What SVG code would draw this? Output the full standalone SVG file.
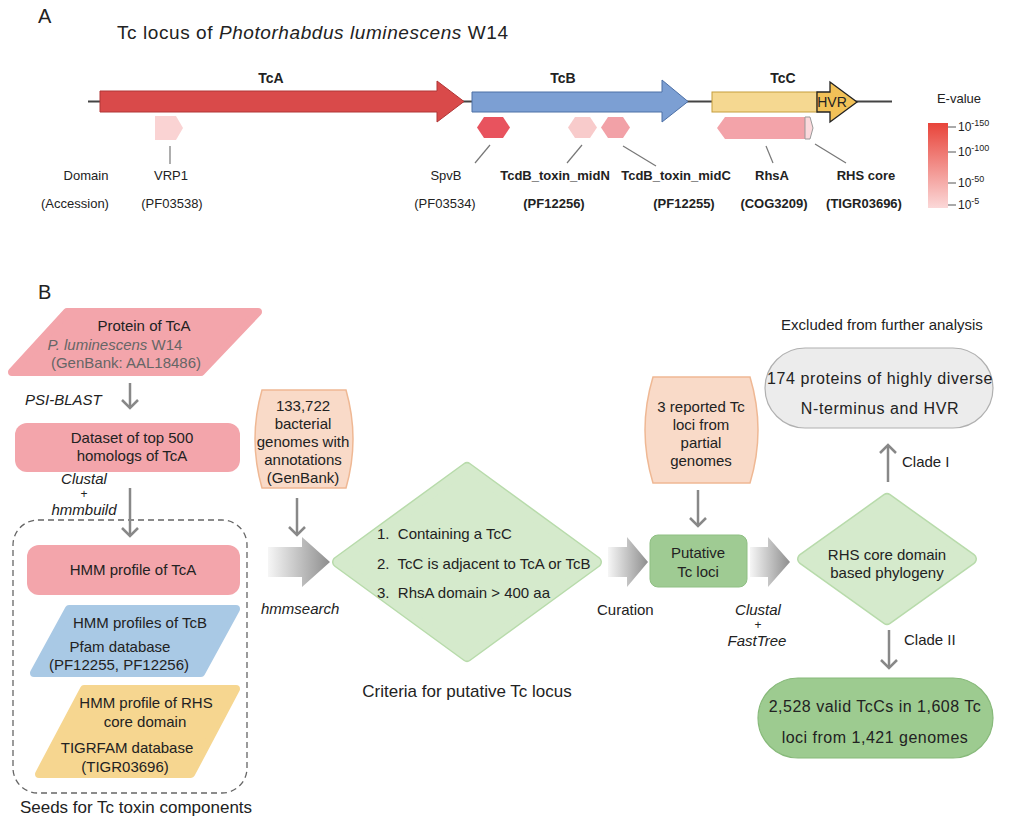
<svg xmlns="http://www.w3.org/2000/svg" width="1011" height="826" viewBox="0 0 1011 826">
<defs>
<style>
text{font-family:"Liberation Sans",Arial,sans-serif;fill:#222}
.f13{font-size:13px}.f14{font-size:14px}.f15{font-size:15px}.f17{font-size:17px}.f20{font-size:20px}
.b{font-weight:bold}.i{font-style:italic}.c{text-anchor:middle}.g{fill:#666}
.dl{stroke:#777;stroke-width:1.2;fill:none}
.ar{stroke:#888;stroke-width:2.5;fill:none;marker-end:url(#ah)}
.pink{fill:#f3a5ab;stroke:#f3a5ab;stroke-width:8;stroke-linejoin:round}
.blue{fill:#a9c9e5;stroke:#a9c9e5;stroke-width:8;stroke-linejoin:round}
.gold{fill:#f6d690;stroke:#f6d690;stroke-width:8;stroke-linejoin:round}
.peach{fill:#f9dac8;stroke:#efb894;stroke-width:1.5}
.dmo{fill:#b8dbab;stroke:#b8dbab;stroke-width:12;stroke-linejoin:round}
.dmi{fill:#d5eacc;stroke:#d5eacc;stroke-width:9;stroke-linejoin:round}
.blk{fill:url(#gg)}
</style>
<marker id="ah" viewBox="-10 -10 20 20" refX="0" refY="0" markerWidth="20" markerHeight="20" markerUnits="userSpaceOnUse" orient="auto">
<path d="M-8,-8 L0,0 L-8,8" stroke="#888" stroke-width="2.5" fill="none"/>
</marker>
<linearGradient id="gg" x1="0" y1="0" x2="1" y2="0">
<stop offset="0" stop-color="#f6f6f6"/><stop offset="1" stop-color="#8e8e8e"/>
</linearGradient>
<linearGradient id="ev" x1="0" y1="0" x2="0" y2="1">
<stop offset="0" stop-color="#e8443a"/><stop offset="1" stop-color="#fbd8d8"/>
</linearGradient>
</defs>
<rect width="1011" height="826" fill="#fff"/>

<!-- Panel A -->
<text class="f20" x="38" y="23">A</text>
<text x="117" y="39" font-size="19" textLength="391" lengthAdjust="spacing">Tc locus of <tspan font-style="italic">Photorhabdus luminescens</tspan> W14</text>

<g id="locus">
<line x1="88" y1="101.5" x2="892" y2="101.5" stroke="#444" stroke-width="2.2"/>
<g id="TcA"><path d="M100,91 H437 V81 L464,101.5 L437,122 V112 H100 Z" fill="#d94a4a" stroke="#b03636" stroke-width="1"/>
<text class="f14 b c" x="271" y="83">TcA</text></g>
<g id="TcB"><path d="M472,92 H662 V80 L688,101.5 L662,122 V112 H472 Z" fill="#7c9fd3" stroke="#4d70a6" stroke-width="1"/>
<text class="f14 b c" x="563" y="83">TcB</text></g>
<g id="TcC"><rect x="712" y="92" width="105" height="20" fill="#f5d891" stroke="#c59e3c" stroke-width="1"/>
<path d="M817,92 H830 V82 L857,102 L830,122 V112 H817 Z" fill="#f2c158" stroke="#222" stroke-width="1.3"/>
<text class="f14 c" x="832" y="107">HVR</text>
<text class="f14 b c" x="783" y="83">TcC</text></g>
</g>

<g id="domains">
<polygon points="155,116 176,116 183,128 176,140 155,140" fill="#fad3d3"/>
<polygon points="477,127.5 484,117 503,117 510,127.5 503,138 484,138" fill="#e8535e"/>
<polygon points="568,127.5 575,117 590,117 597,127.5 590,138 575,138" fill="#f8cbcb"/>
<polygon points="601,127.5 608,117 623,117 630,127.5 623,138 608,138" fill="#f2a1a7"/>
<polygon points="717,128 725,117 805,117 805,139 725,139" fill="#f3a3a9"/>
<polygon points="805,117 810,117 813,128 810,139 805,139" fill="#fbd9dc" stroke="#999" stroke-width="1"/>
</g>

<g id="domain-lines">
<line class="dl" x1="170" y1="146" x2="170" y2="164"/>
<line class="dl" x1="490" y1="145" x2="475" y2="163"/>
<line class="dl" x1="582" y1="145" x2="567" y2="163"/>
<line class="dl" x1="623" y1="146" x2="656" y2="166"/>
<line class="dl" x1="766" y1="146" x2="773" y2="163"/>
<line class="dl" x1="815" y1="144" x2="846" y2="163"/>
</g>

<g id="domain-labels">
<text class="f13 c" x="86" y="180">Domain</text>
<text class="f13 c" x="75" y="208">(Accession)</text>
<text class="f13 c" x="171" y="180">VRP1</text>
<text class="f13 c" x="172" y="208">(PF03538)</text>
<text class="f13 c" x="446" y="180">SpvB</text>
<text class="f13 c" x="445" y="208">(PF03534)</text>
<text class="f13 b c" x="555" y="180">TcdB_toxin_midN</text>
<text class="f13 b c" x="554" y="208">(PF12256)</text>
<text class="f13 b c" x="676" y="180">TcdB_toxin_midC</text>
<text class="f13 b c" x="684" y="208">(PF12255)</text>
<text class="f13 b c" x="772" y="180">RhsA</text>
<text class="f13 b c" x="774" y="208">(COG3209)</text>
<text class="f13 b c" x="866" y="180">RHS core</text>
<text class="f13 b c" x="864" y="208">(TIGR03696)</text>
</g>

<g id="legend">
<text class="f13 c" x="959" y="103">E-value</text>
<rect x="928" y="123" width="20" height="85" fill="url(#ev)"/>
<g stroke="#555" stroke-width="1">
<line x1="948" y1="127" x2="956" y2="127"/><line x1="948" y1="152" x2="956" y2="152"/>
<line x1="948" y1="183" x2="956" y2="183"/><line x1="948" y1="205" x2="956" y2="205"/>
</g>
<text font-size="12" x="958" y="131" fill="#444">10<tspan font-size="9" dy="-5">-150</tspan></text>
<text font-size="12" x="958" y="156" fill="#444">10<tspan font-size="9" dy="-5">-100</tspan></text>
<text font-size="12" x="958" y="187" fill="#444">10<tspan font-size="9" dy="-5">-50</tspan></text>
<text font-size="12" x="958" y="209" fill="#444">10<tspan font-size="9" dy="-5">-5</tspan></text>
</g>

<!-- Panel B -->
<text class="f20" x="38" y="299">B</text>

<g id="protein-tca">
<polygon class="pink" points="67,312 258,312 201,372 12,372"/>
<text class="f15 c" x="144" y="331">Protein of TcA</text>
<text class="f15 c g" x="115" y="350"><tspan class="i">P. luminescens</tspan> W14</text>
<text class="f15 c g" x="126" y="368">(GenBank: AAL18486)</text>
</g>

<g id="dataset">
<rect x="15" y="423" width="225" height="49" rx="12" fill="#f3a5ab"/>
<text class="f15 c" x="132" y="443">Dataset of top 500</text>
<text class="f15 c" x="132" y="461">homologs of TcA</text>
</g>

<g id="seeds">
<rect x="13" y="520" width="234" height="273" rx="25" fill="none" stroke="#666" stroke-width="1.3" stroke-dasharray="6,4"/>
<text class="f17 c" x="136" y="813">Seeds for Tc toxin components</text>
</g>

<g id="hmm-tca">
<rect x="27" y="545" width="213" height="50" rx="12" fill="#f3a5ab"/>
<text class="f15 c" x="133" y="575">HMM profile of TcA</text>
</g>

<g id="hmm-tcb">
<polygon class="blue" points="69,609 236,609 201,673 34,673"/>
<text class="f15 c" x="140" y="628">HMM profiles of TcB</text>
<text class="f15 c" x="120" y="652" fill="#555">Pfam database</text>
<text class="f15 c" x="119" y="670" fill="#555">(PF12255, PF12256)</text>
</g>

<g id="hmm-rhs">
<polygon class="gold" points="84,689 236,689 191,774 39,774"/>
<text class="f15 c" x="146" y="708">HMM profile of RHS</text>
<text class="f15 c" x="145" y="727">core domain</text>
<text class="f15 c" x="127" y="753" fill="#555">TIGRFAM database</text>
<text class="f15 c" x="125" y="772" fill="#555">(TIGR03696)</text>
</g>

<g id="genomes">
<path class="peach" d="M262,390 H346 Q360,439 346,488 H262 Q248,439 262,390 Z"/>
<text class="f15 c" x="303" y="411">133,722</text>
<text class="f15 c" x="303" y="429">bacterial</text>
<text class="f15 c" x="303" y="447">genomes with</text>
<text class="f15 c" x="303" y="465">annotations</text>
<text class="f15 c" x="303" y="483">(GenBank)</text>
</g>

<g id="criteria">
<polygon class="dmo" points="467,468 596,562 467,656 338,562"/>
<polygon class="dmi" points="467,468 596,562 467,656 338,562"/>
<text class="f15" x="377" y="539" xml:space="preserve">1.  Containing a TcC</text>
<text class="f15" x="377" y="569" xml:space="preserve">2.  TcC is adjacent to TcA or TcB</text>
<text class="f15" x="377" y="598" xml:space="preserve">3.  RhsA domain &gt; 400 aa</text>
<text class="f17 c" x="467" y="697">Criteria for putative Tc locus</text>
</g>

<g id="reported">
<path class="peach" d="M653,377 H750 Q766,430 750,483 H653 Q637,430 653,377 Z"/>
<text class="f15 c" x="701" y="412">3 reported Tc</text>
<text class="f15 c" x="701" y="430">loci from</text>
<text class="f15 c" x="701" y="448">partial</text>
<text class="f15 c" x="701" y="466">genomes</text>
</g>

<g id="putative">
<rect x="650" y="535" width="97" height="52" rx="8" fill="#9fcb93" stroke="#8fbf83" stroke-width="1"/>
<text class="f15 c" x="698" y="558">Putative</text>
<text class="f15 c" x="698" y="577">Tc loci</text>
</g>

<g id="phylogeny">
<polygon class="dmo" points="887,499 971,559 887,619 803,559"/>
<polygon class="dmi" points="887,499 971,559 887,619 803,559"/>
<text class="f15 c" x="887" y="560">RHS core domain</text>
<text class="f15 c" x="887" y="578">based phylogeny</text>
</g>

<g id="excluded">
<text class="f15 c" x="882" y="330">Excluded from further analysis</text>
<rect x="765" y="348" width="228" height="80" rx="40" fill="#ececec" stroke="#b0b0b0" stroke-width="1.2"/>
<text class="c" font-size="16" letter-spacing="0.6" x="880" y="384">174 proteins of highly diverse</text>
<text class="c" font-size="16" letter-spacing="0.6" x="880" y="414">N-terminus and HVR</text>
</g>

<g id="valid">
<rect x="758" y="678" width="235" height="80" rx="40" fill="#9dcb90" stroke="#87b97a" stroke-width="1.2"/>
<text class="c" font-size="16" letter-spacing="0.5" x="875" y="712">2,528 valid TcCs in 1,608 Tc</text>
<text class="c" font-size="16" letter-spacing="0.5" x="875" y="743">loci from 1,421 genomes</text>
</g>

<g id="connectors">
<line class="ar" x1="130" y1="383" x2="130" y2="408"/>
<line class="ar" x1="130" y1="488" x2="130" y2="536"/>
<line class="ar" x1="297" y1="498" x2="297" y2="535"/>
<line class="ar" x1="698" y1="490" x2="698" y2="526"/>
<line class="ar" x1="888" y1="482" x2="888" y2="445"/>
<line class="ar" x1="889" y1="630" x2="889" y2="668"/>
<path class="blk" d="M268,547 H302 V537 L330,562 L302,587 V577 H268 Z"/>
<path class="blk" d="M608,547 H627 V537 L648,562 L627,587 V577 H608 Z"/>
<path class="blk" d="M750,547 H768 V537 L790,562 L768,587 V577 H750 Z"/>
<text class="f15 i" x="25" y="405">PSI-BLAST</text>
<text class="f15 i c" x="84" y="484">Clustal</text>
<text class="c" font-size="12" x="84" y="498">+</text>
<text class="f15 i c" x="84" y="515">hmmbuild</text>
<text class="f15 i" x="261" y="614">hmmsearch</text>
<text class="f15" x="597" y="615">Curation</text>
<text class="f15 i c" x="758" y="615">Clustal</text>
<text class="c" font-size="12" x="758" y="629">+</text>
<text class="f15 i c" x="757" y="646">FastTree</text>
<text class="f15" x="902" y="467">Clade I</text>
<text class="f15" x="904" y="645">Clade II</text>
</g>
</svg>
